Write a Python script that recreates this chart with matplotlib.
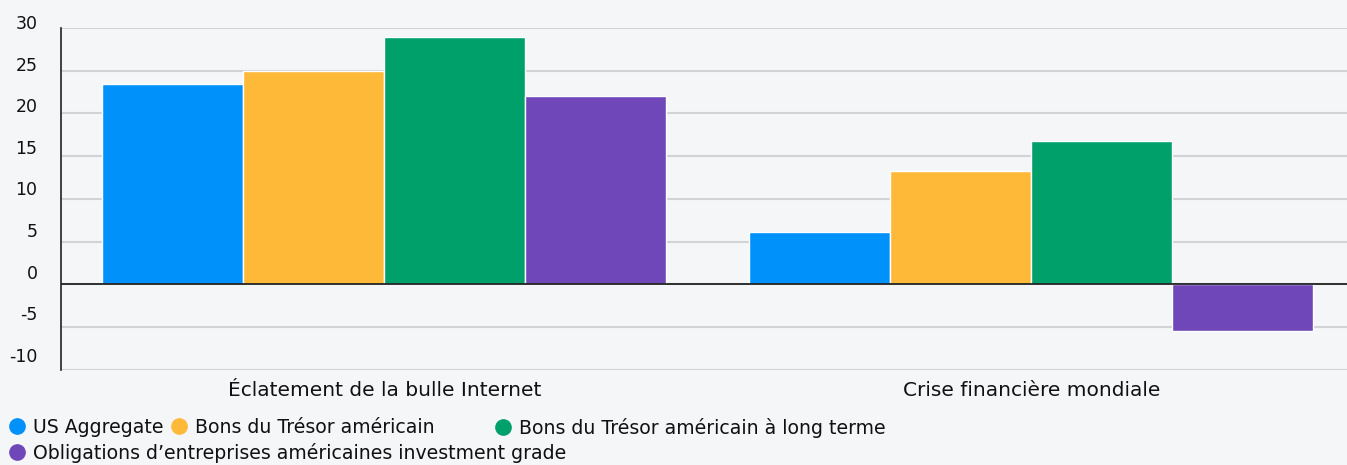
import matplotlib.pyplot as plt
import matplotlib.transforms as mtransforms
from matplotlib.lines import Line2D
import numpy as np

# données
categories = ["Éclatement de la bulle Internet", "Crise financière mondiale"]
series = ["US Aggregate", "Bons du Trésor américain",
          "Bons du Trésor américain à long terme",
          "Obligations d’entreprises américaines investment grade"]
us_aggregate = [23.5, 6.1]
bons_tresor = [25.0, 13.3]
bons_tresor_lt = [28.9, 16.8]
oblig_ig = [22.0, -5.4]
y_ticks = [30, 25, 20, 15, 10, 5, 0, -5, -10]

colors = ["#0091FA", "#FFB938", "#00A06A", "#6F47B8"]
bg = "#F5F6F8"

plt.rcParams['font.family'] = ['DejaVu Sans']

W, H = 1347, 465
fig = plt.figure(figsize=(W / 100, H / 100), dpi=100, facecolor=bg)
ax = fig.add_axes([0.0453, 0.2043, 0.9547, 0.7355], facecolor=bg)

x = np.arange(len(categories))
w = 0.218
values = [us_aggregate, bons_tresor, bons_tresor_lt, oblig_ig]
for i, (vals, c, lab) in enumerate(zip(values, colors, series)):
    ax.bar(x + (i - 1.5) * w, vals, width=w, color=c, edgecolor="white",
           linewidth=1, label=lab, zorder=3)

ax.set_xlim(-0.5, 1.488)
ax.set_ylim(-10, 30)
ax.set_yticks(y_ticks)
ax.set_yticklabels([str(t) for t in y_ticks], fontsize=12.5, color="#111111")
ax.set_xticks(x)
ax.set_xticklabels(categories, fontsize=14.5, color="#111111")
ax.tick_params(axis='both', length=0)
ax.tick_params(axis='y', pad=17)
ax.tick_params(axis='x', pad=8)

# étiquettes de l'axe y un peu au-dessus des lignes
for t, lbl in zip(y_ticks, ax.get_yticklabels()):
    dy = (6 + (30 - t) / 40 * 9) / 100
    lbl.set_transform(lbl.get_transform() +
                      mtransforms.ScaledTranslation(0, dy, fig.dpi_scale_trans))

ax.grid(axis='y', color="#D2D3D7", linewidth=1.5, zorder=0)
ax.axhline(0, color="#222222", linewidth=1.3, zorder=4)
for s in ["top", "right", "bottom"]:
    ax.spines[s].set_visible(False)
ax.spines["left"].set_color("#222222")
ax.spines["left"].set_linewidth(1.2)

# légende : une entrée par position (deux lignes)
leg_pos = [(10, 418), (172, 418), (496, 418), (10, 443)]
for c, lab, (px, py) in zip(colors, series, leg_pos):
    h = Line2D([], [], marker='o', linestyle='none', markersize=11,
               markerfacecolor=c, markeredgecolor=c)
    fig.legend([h], [lab], loc="upper left", bbox_to_anchor=(px / W, 1 - py / H),
               frameon=False, fontsize=13.6, handlelength=0.75, handleheight=0.7,
               handletextpad=0.45, borderaxespad=0, borderpad=0,
               labelcolor="#111111")

fig.savefig("out.png", dpi=100, facecolor=bg)
